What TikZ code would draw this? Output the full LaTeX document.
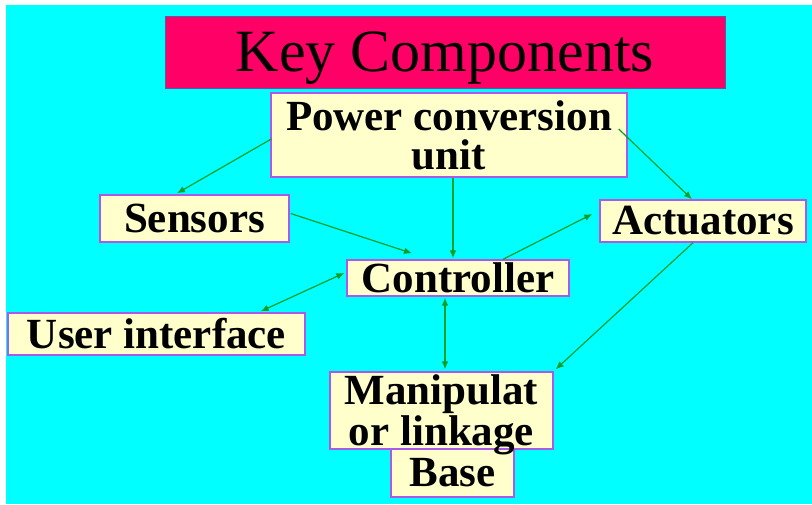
\documentclass[tikz,border=0pt]{standalone}
\usepackage{fontspec}
\setmainfont{Liberation Serif}
\usetikzlibrary{arrows.meta,calc}

\definecolor{sky}{RGB}{0,255,255}
\definecolor{headpink}{RGB}{255,0,102}
\definecolor{boxfill}{RGB}{255,255,204}
\definecolor{boxline}{RGB}{170,90,230}
\definecolor{linkgreen}{RGB}{0,160,40}

\begin{document}
\begin{tikzpicture}[x=0.5pt,y=-0.5pt,>={Latex[length=4pt,width=3.4pt]},
                    part/.style={draw=boxline,fill=boxfill,line width=0.7pt,inner sep=0pt,
                      align=center,font=\fontsize{21.5}{19.5}\selectfont\bfseries},
                    link/.style={->,draw=linkgreen,line width=0.6pt},
                    both/.style={<->,draw=linkgreen,line width=0.6pt}]

  % background
  \fill[white] (0,0) rectangle (812,504);
  \fill[sky] (6,5) rectangle (812,504);
  \useasboundingbox (0,0) rectangle (812,504);

  \node[draw=gray!70!blue,line width=0.4pt,fill=headpink,minimum width=280pt,minimum height=36pt,
        inner sep=0pt,text depth=0pt,font=\fontsize{30}{30}\selectfont] (title) at (445,52) {Key Components};

  \node[part,minimum width=178pt,minimum height=42pt]   (power)   at (449,135)     {Power conversion\\unit};
  \node[part,minimum width=94.5pt,minimum height=23.5pt] (sensors) at (194.5,218.5) {Sensors};
  \node[part,minimum width=103pt,minimum height=21pt]   (act)     at (703,221)     {Actuators};
  \node[part,minimum width=111pt,minimum height=18pt]   (control) at (458,278)     {Controller};
  \node[part,minimum width=148.5pt,minimum height=21pt] (user)    at (156.5,334)   {User interface};
  \node[part,minimum width=61.5pt,minimum height=24pt]  (base)    at (452.5,473)   {Base};
  \node[part,minimum width=111.5pt,minimum height=38.5pt,text depth=0pt,
        font=\fontsize{21.5}{17}\selectfont\bfseries] (manip) at (441.5,410.5) {Manipulat\\or linkage};

  \draw[link] ($(power.west)+(1,4)$)      -- ($(sensors.north)+(-17.5,-1)$);
  \draw[link] ($(power.south)+(4,0)$)     -- ($(control.north)+(-5,-1)$);
  \draw[link] ($(power.east)+(-9,-6)$)    -- ($(act.north)+(-11,0)$);
  \draw[link] ($(sensors.east)+(1,-5)$)   -- ($(control.north)+(-46,-6)$);
  \draw[link] ($(control.north)+(45,0)$)  -- ($(act.west)+(-7,-7)$);
  \draw[link] ($(act.south)+(-10,0)$)     -- ($(manip.north east)+(2,-2)$);
  \draw[both] ($(control.west)+(-2,-5)$)  -- ($(user.north east)+(-45,-1)$);
  \draw[both] ($(control.south)+(-13,1)$) -- ($(manip.north)+(3.5,-2)$);
\end{tikzpicture}
\end{document}
